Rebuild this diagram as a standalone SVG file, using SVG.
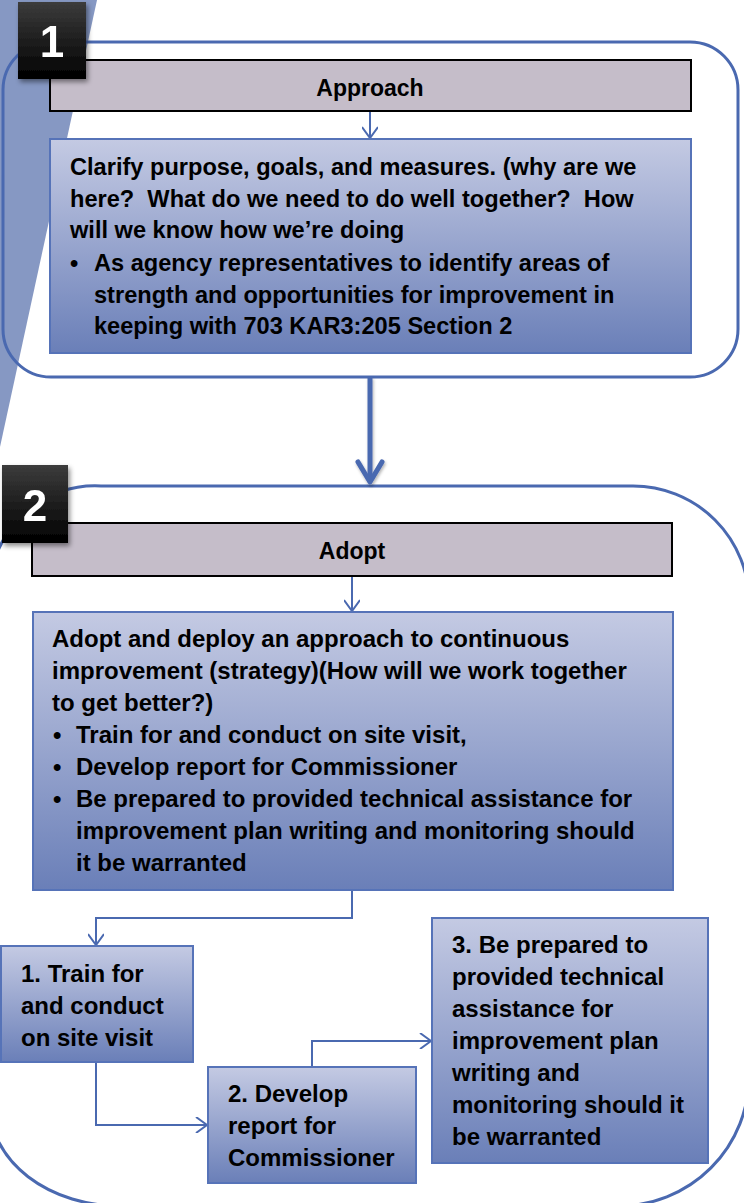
<svg xmlns="http://www.w3.org/2000/svg" width="744" height="1203" viewBox="0 0 744 1203">
<defs>
<linearGradient id="gBox" x1="0" y1="0" x2="0" y2="1">
<stop offset="0" stop-color="#c4cae3"/>
<stop offset="1" stop-color="#6a7fb8"/>
</linearGradient>
<linearGradient id="gBlack" x1="0" y1="0" x2="0" y2="1">
<stop offset="0" stop-color="#3c3c3c"/>
<stop offset="1" stop-color="#000"/>
</linearGradient>
<filter id="sh" x="-20%" y="-20%" width="150%" height="150%">
<feDropShadow dx="2" dy="3" stdDeviation="2.5" flood-color="#000" flood-opacity="0.45"/>
</filter>
<filter id="sh2" filterUnits="userSpaceOnUse" x="340" y="360" width="60" height="140">
<feDropShadow dx="1" dy="2" stdDeviation="1.5" flood-color="#000" flood-opacity="0.3"/>
</filter>
<marker id="vh" markerWidth="16" markerHeight="16" viewBox="-13 -8 15 16" refX="0" refY="0" orient="auto" markerUnits="userSpaceOnUse">
<path d="M-11,-8 L0,0 L-11,8" fill="none" stroke="#4a69b0" stroke-width="2"/>
</marker>
</defs>
<style>
.t{font-family:"Liberation Sans",Arial,sans-serif;font-weight:bold;font-size:24px;fill:#000;white-space:pre}
.t1{font-size:23.6px}
.h{font-family:"Liberation Sans",Arial,sans-serif;font-weight:bold;font-size:23px;fill:#000;text-anchor:middle}
.n{font-family:"Liberation Sans",Arial,sans-serif;font-weight:bold;font-size:44px;fill:#fff;text-anchor:middle}
.box{fill:url(#gBox);stroke:#5673b8;stroke-width:2}
.hdr{fill:#c5bdc9;stroke:#000;stroke-width:2}
.frame{fill:none;stroke:#4a69b0;stroke-width:3}
.c{fill:none;stroke:#4a69b0;stroke-width:2;marker-end:url(#vh)}
</style>
<rect width="744" height="1203" fill="#fff"/>
<polygon points="0,0 97,0 0,447" fill="#8698c3"/>

<g id="stage1">
<rect class="frame" x="3" y="42" width="735" height="335" rx="48" ry="48"/>
</g>
<g id="stage2">
<path class="frame" d="M101,486 L633,486 A116,116 0 0 1 749,602 L749,1076 A130,130 0 0 1 619,1206 L120,1206 A130,100 0 0 1 -10,1106 L-10,591 A105,105 0 0 1 101,486 Z"/>
</g>

<g id="connectors">
<line class="c" x1="370" y1="111" x2="370" y2="138"/>
<g filter="url(#sh2)" fill="none" stroke="#4a69b0" stroke-width="5" stroke-linecap="round" stroke-linejoin="round">
<line x1="370" y1="377" x2="370" y2="482" stroke-linecap="butt"/>
<path d="M358,462 L370,482 L382,462"/>
</g>
<line class="c" x1="352" y1="577" x2="352" y2="611"/>
<polyline class="c" points="352,891 352,918 96,918 96,945"/>
<polyline class="c" points="96,1063 96,1125 207,1125"/>
<polyline class="c" points="312,1067 312,1041 431,1041"/>
</g>

<g id="approach">
<rect class="hdr" x="50" y="60" width="641" height="51"/>
<text class="h" x="370" y="96">Approach</text>
</g>
<g id="approach-detail">
<rect class="box" x="50" y="139" width="641" height="214"/>
<text class="t t1" x="70" y="175">Clarify purpose, goals, and measures. (why are we</text>
<text class="t t1" x="70" y="207">here?  What do we need to do well together?  How</text>
<text class="t t1" x="70" y="238">will we know how we’re doing</text>
<text class="t t1" x="70" y="271">•</text>
<text class="t t1" x="94" y="271">As agency representatives to identify areas of</text>
<text class="t t1" x="94" y="303">strength and opportunities for improvement in</text>
<text class="t t1" x="94" y="334">keeping with 703 KAR3:205 Section 2</text>
</g>
<g id="num1" filter="url(#sh)">
<rect x="18" y="2" width="68" height="77" fill="url(#gBlack)"/>
<text class="n" x="52" y="57">1</text>
</g>

<g id="adopt">
<rect class="hdr" x="32" y="523" width="640" height="53"/>
<text class="h" x="352" y="559">Adopt</text>
</g>
<g id="adopt-detail">
<rect class="box" x="33" y="612" width="640" height="278"/>
<text class="t" x="52" y="647">Adopt and deploy an approach to continuous</text>
<text class="t" x="52" y="679">improvement (strategy)(How will we work together</text>
<text class="t" x="52" y="711">to get better?)</text>
<text class="t" x="53" y="743">•</text>
<text class="t" x="76" y="743">Train for and conduct on site visit,</text>
<text class="t" x="53" y="775">•</text>
<text class="t" x="76" y="775">Develop report for Commissioner</text>
<text class="t" x="53" y="807">•</text>
<text class="t" x="76" y="807">Be prepared to provided technical assistance for</text>
<text class="t" x="76" y="839">improvement plan writing and monitoring should</text>
<text class="t" x="76" y="871">it be warranted</text>
</g>
<g id="num2" filter="url(#sh)">
<rect x="2" y="465" width="66" height="78" fill="url(#gBlack)"/>
<text class="n" x="35" y="521">2</text>
</g>

<g id="step1">
<rect class="box" x="1" y="946" width="192" height="116"/>
<text class="t" x="21" y="982">1. Train for</text>
<text class="t" x="21" y="1014">and conduct</text>
<text class="t" x="21" y="1046">on site visit</text>
</g>
<g id="step2">
<rect class="box" x="208" y="1067" width="208" height="116"/>
<text class="t" x="228" y="1102">2. Develop</text>
<text class="t" x="228" y="1134">report for</text>
<text class="t" x="228" y="1166">Commissioner</text>
</g>
<g id="step3">
<rect class="box" x="432" y="918" width="276" height="245"/>
<text class="t" x="452" y="953">3. Be prepared to</text>
<text class="t" x="452" y="985">provided technical</text>
<text class="t" x="452" y="1017">assistance for</text>
<text class="t" x="452" y="1049">improvement plan</text>
<text class="t" x="452" y="1081">writing and</text>
<text class="t" x="452" y="1113">monitoring should it</text>
<text class="t" x="452" y="1145">be warranted</text>
</g>
</svg>
